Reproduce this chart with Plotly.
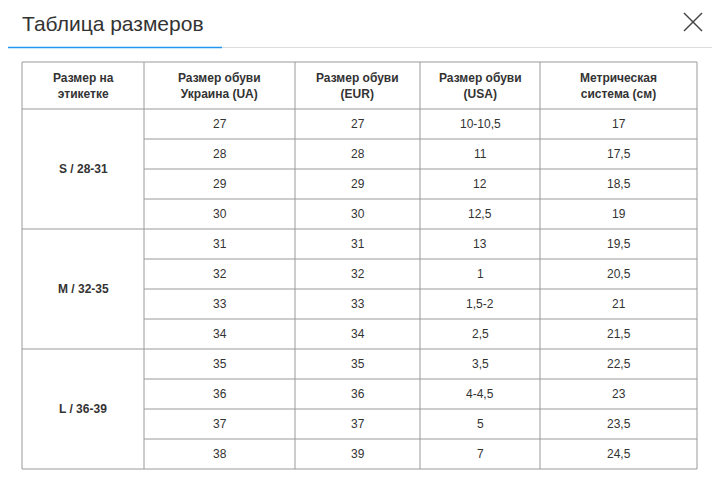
import plotly.graph_objects as go

headers = ["Размер на<br>этикетке", "Размер обуви<br>Украина (UA)", "Размер обуви<br>(EUR)",
           "Размер обуви<br>(USA)", "Метрическая<br>система (см)"]
groups = ["S / 28-31", "M / 32-35", "L / 36-39"]
ua = ["27", "28", "29", "30", "31", "32", "33", "34", "35", "36", "37", "38"]
eur = ["27", "28", "29", "30", "31", "32", "33", "34", "35", "36", "37", "39"]
usa = ["10-10,5", "11", "12", "12,5", "13", "1", "1,5-2", "2,5", "3,5", "4-4,5", "5", "7"]
cm = ["17", "17,5", "18,5", "19", "19,5", "20,5", "21", "21,5", "22,5", "23", "23,5", "24,5"]
title = "Таблица размеров"

W, H = 720, 482
OFF = 8  # page body margin compensation
col_edges = [22, 144, 295, 420, 540, 697]
head_top, head_bot, row_h = 62, 109, 30
grid = "#9a9a9a"
txt = "#333333"
font = "Liberation Sans, Arial, sans-serif"

shapes, ann = [], []
def line(x0, y0, x1, y1, c=grid, w=1):
    shapes.append(dict(type="line", x0=x0, y0=y0, x1=x1, y1=y1, line=dict(color=c, width=w)))

n = len(ua)
bottom = head_bot + n * row_h
for x in col_edges:
    line(x, head_top, x, bottom)
line(col_edges[0], head_top, col_edges[-1], head_top)
line(col_edges[0], head_bot, col_edges[-1], head_bot)
for i in range(1, n + 1):
    y = head_bot + i * row_h
    x0 = col_edges[0] if (i % 4 == 0) else col_edges[1]
    line(x0, y, col_edges[-1], y)

cx = [(col_edges[i] + col_edges[i + 1]) / 2 for i in range(5)]
for i, h in enumerate(headers):
    ann.append(dict(x=cx[i], y=(head_top + head_bot) / 2, text="<b>" + h + "</b>", showarrow=False,
                    font=dict(size=12, color=txt, family=font)))
for g, lab in enumerate(groups):
    ann.append(dict(x=cx[0], y=head_bot + (g * 4 + 2) * row_h, text="<b>" + lab + "</b>", showarrow=False,
                    font=dict(size=12, color=txt, family=font)))
for r in range(n):
    y = head_bot + (r + 0.5) * row_h
    for c, col in enumerate([ua, eur, usa, cm]):
        ann.append(dict(x=cx[c + 1], y=y, text=col[r], showarrow=False,
                        font=dict(size=12, color=txt, family=font)))

ann.append(dict(x=20, y=23, text=title, showarrow=False, xanchor="left",
                font=dict(size=21, color=txt, family=font)))
line(0, 47.5, W + OFF, 47.5, c="#dddddd", w=1)
line(0, 47.5, 222, 47.5, c="#2196f3", w=1.5)
line(684, 13, 702, 31, c="#444444", w=1.5)
line(702, 13, 684, 31, c="#444444", w=1.5)

fig = go.Figure()
fig.update_layout(width=W, height=H, margin=dict(l=0, r=0, t=0, b=0),
                  paper_bgcolor="white", plot_bgcolor="white",
                  xaxis=dict(range=[OFF, W + OFF], visible=False, fixedrange=True),
                  yaxis=dict(range=[H + OFF, OFF], visible=False, fixedrange=True),
                  shapes=shapes, annotations=ann, showlegend=False)
fig.write_html("out.html", config={"displayModeBar": False})
